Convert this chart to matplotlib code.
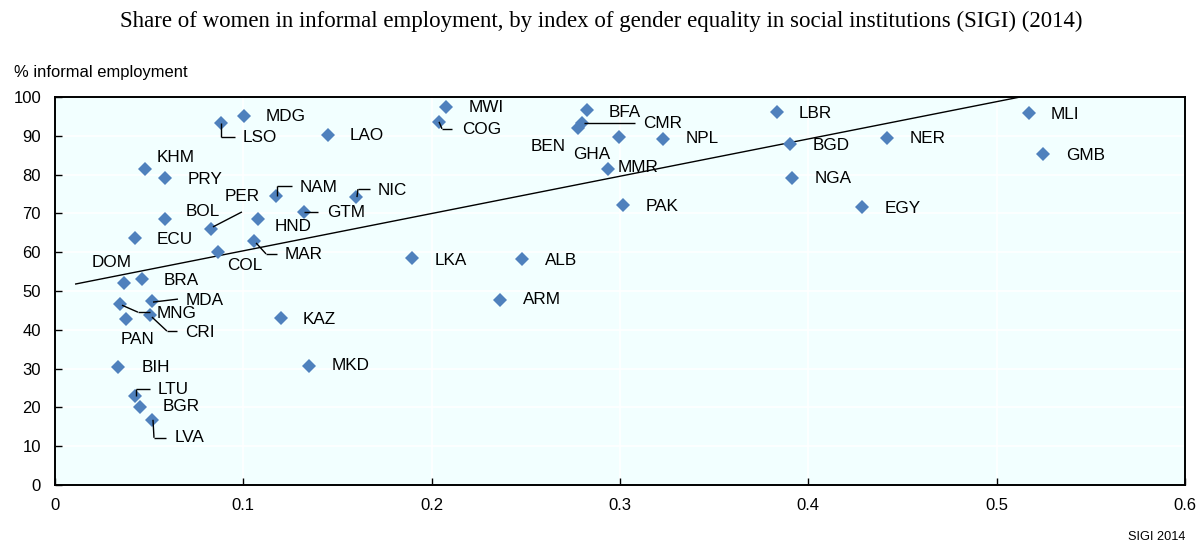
import matplotlib
matplotlib.use("Agg")
import matplotlib.pyplot as plt
from matplotlib.transforms import ScaledTranslation

# Country codes, SIGI 2014 scores and share of women in informal employment (%)
countries = ["MDG", "LSO", "LAO", "KHM", "PRY", "NAM", "NIC", "GTM", "HND", "BOL",
             "PER", "ECU", "MAR", "COL", "DOM", "BRA", "MDA", "MNG", "CRI", "PAN",
             "BIH", "LTU", "BGR", "LVA", "KAZ", "MKD", "LKA", "ALB", "ARM", "MWI",
             "COG", "BFA", "BEN", "CMR", "GHA", "MMR", "NPL", "PAK", "LBR", "BGD",
             "NGA", "NER", "EGY", "MLI", "GMB"]
sigi = [0.1004, 0.0881, 0.1450, 0.0478, 0.0584, 0.1173, 0.1598, 0.1322, 0.1078, 0.0584,
        0.0828, 0.0425, 0.1057, 0.0865, 0.0366, 0.0462, 0.0515, 0.0345, 0.0504, 0.0377,
        0.0335, 0.0425, 0.0451, 0.0515, 0.1200, 0.1349, 0.1896, 0.2480, 0.2363, 0.2076,
        0.2039, 0.2825, 0.2777, 0.2798, 0.2995, 0.2936, 0.3228, 0.3016, 0.3834, 0.3903,
        0.3913, 0.4418, 0.4285, 0.5172, 0.5246]
informal = [95.1, 93.3, 90.2, 81.4, 79.1, 74.5, 74.2, 70.4, 68.6, 68.6,
            66.0, 63.7, 62.9, 60.1, 52.1, 53.1, 47.4, 46.6, 43.8, 42.8,
            30.4, 22.9, 20.1, 16.8, 43.0, 30.7, 58.5, 58.2, 47.7, 97.4,
            93.6, 96.6, 92.0, 93.3, 89.7, 81.4, 89.2, 72.2, 96.1, 87.9,
            79.1, 89.4, 71.6, 95.9, 85.3]

# Linear trend
trend_intercept = 50.75
trend_slope = 96.1
trend_start = 0.011

x_ticks = [0, 0.1, 0.2, 0.3, 0.4, 0.5, 0.6]
x_tick_labels = ["0", "0.1", "0.2", "0.3", "0.4", "0.5", "0.6"]
y_ticks = [0, 10, 20, 30, 40, 50, 60, 70, 80, 90, 100]

title = "Share of women in informal employment, by index of gender equality in social institutions (SIGI) (2014)"
y_title = "% informal employment"
x_title = "SIGI 2014"

# Label placement: text offset (px, y downward) and optional leader path
label_offsets = {
    "MDG": (22, 0), "LSO": (22, 15), "LAO": (22, 0), "KHM": (12, -12), "PRY": (23, 1),
    "NAM": (24, -8), "NIC": (22, -7), "GTM": (23, 1), "HND": (17, 8), "BOL": (21, -7),
    "PER": (14, -32), "ECU": (22, 2), "MAR": (31, 14), "COL": (9, 14), "DOM": (-32, -20),
    "BRA": (22, 2), "MDA": (34, -1), "MNG": (37, 9), "CRI": (35, 17), "PAN": (-5, 21),
    "BIH": (24, 0), "LTU": (23, -7), "BGR": (23, -1), "LVA": (23, 18), "KAZ": (22, 1),
    "MKD": (23, 0), "LKA": (23, 2), "ALB": (23, 1), "ARM": (23, 0), "MWI": (23, 0),
    "COG": (23, 8), "BFA": (22, 2), "CMR": (61, 1), "BEN": (-47, 18), "GHA": (-46, 18),
    "MMR": (10, -2), "NPL": (23, 0), "PAK": (23, 2), "LBR": (22, 1), "BGD": (23, 2),
    "NGA": (23, 0), "NER": (23, 0), "EGY": (23, 1), "MLI": (22, 2), "GMB": (23, 1),
}
leaders = {
    "LSO": [(0, 0), (0, 14), (14, 14)],
    "NAM": [(1, 0), (1, -10), (16, -10)],
    "NIC": [(1, 0), (2, -8), (14, -8)],
    "GTM": [(0, 0), (14, 0)],
    "PER": [(2, -2), (31, -17)],
    "MAR": [(2, 2), (12, 13), (23, 13)],
    "MDA": [(1, 1), (26, -2)],
    "MNG": [(2, 1), (18, 8), (30, 8)],
    "CRI": [(2, 2), (17, 16), (27, 16)],
    "LTU": [(1, 0), (1, -7), (15, -7)],
    "LVA": [(1, 0), (2, 18), (14, 18)],
    "COG": [(0, 0), (3, 7), (13, 7)],
    "CMR": [(2, 0), (53, 0)],
}

plt.rcParams["font.family"] = ["Liberation Sans", "DejaVu Sans"]

DPI = 100
fig = plt.figure(figsize=(12.03, 5.45), dpi=DPI)
ax = fig.add_axes([55 / 1203, 60 / 545, 1130 / 1203, 388 / 545])

ax.set_facecolor("#F2FFFF")
ax.set_xlim(0, 0.6)
ax.set_ylim(0, 100)
ax.set_xticks(x_ticks)
ax.set_xticklabels(x_tick_labels)
ax.set_yticks(y_ticks)
ax.grid(True, color="white", linewidth=1.2)
ax.set_axisbelow(True)
ax.tick_params(direction="in", length=5, width=1, labelsize=12, colors="black")
ax.tick_params(axis="y", pad=10)
ax.tick_params(axis="x", pad=9)
for side in ["left", "right", "top", "bottom"]:
    ax.spines[side].set_linewidth(1.4)
    ax.spines[side].set_color("black")

# Trend line, clipped by the plot frame
tx = [trend_start, 0.6]
ty = [trend_intercept + trend_slope * v for v in tx]
ax.plot(tx, ty, color="black", linewidth=1.0, zorder=2)

ax.plot(sigi, informal, linestyle="none", marker="D", markersize=7.6,
        color="#4F81BD", markeredgewidth=0, zorder=3)


def shifted(dx, dy):
    return ax.transData + ScaledTranslation(dx / DPI, -dy / DPI, fig.dpi_scale_trans)


for name, xv, yv in zip(countries, sigi, informal):
    dx, dy = label_offsets[name]
    ax.text(xv, yv, name, transform=shifted(dx, dy), ha="left", va="center",
            fontsize=12.3, color="black", zorder=4)
    if name in leaders:
        path = leaders[name]
        inv = ax.transData.inverted()
        for (x0, y0), (x1, y1) in zip(path[:-1], path[1:]):
            p0 = inv.transform(shifted(x0, y0).transform((xv, yv)))
            p1 = inv.transform(shifted(x1, y1).transform((xv, yv)))
            ax.plot([p0[0], p1[0]], [p0[1], p1[1]], color="black", linewidth=1.0,
                    zorder=4, solid_capstyle="butt")

fig.text(601 / 1203, 1 - 21 / 545, title, ha="center", va="center",
         fontsize=16.5, family=["Liberation Serif", "DejaVu Serif"])
fig.text(14 / 1203, 1 - 73 / 545, y_title, ha="left", va="center", fontsize=11.9)
fig.text(1185 / 1203, 1 - 537 / 545, x_title, ha="right", va="center", fontsize=9.2)

fig.savefig("out.png", dpi=DPI)
